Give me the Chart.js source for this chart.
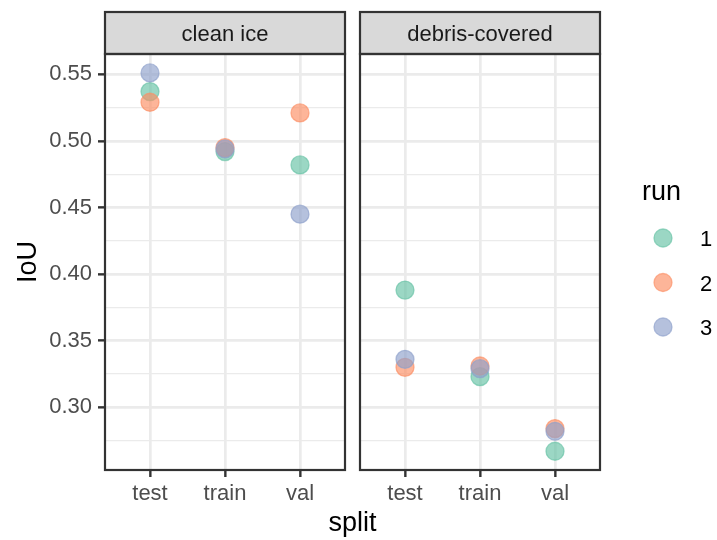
<!DOCTYPE html>
<html><head><meta charset="utf-8">
<script src="https://cdn.jsdelivr.net/npm/chart.js@4.4.0/dist/chart.umd.min.js"></script>
<style>html,body{margin:0;padding:0;background:#fff;}#wrap{width:717px;height:540px;position:relative;}</style>
</head><body><div id="wrap"><canvas id="c" width="717" height="540"></canvas></div>
<script>
// ---- data ----
const categories = ['test', 'train', 'val'];
const facets = ['clean ice', 'debris-covered'];
const runs = ['1', '2', '3'];
const run1Clean  = [0.537, 0.492, 0.482];
const run1Debris = [0.388, 0.323, 0.267];
const run2Clean  = [0.529, 0.495, 0.521];
const run2Debris = [0.330, 0.331, 0.284];
const run3Clean  = [0.551, 0.494, 0.445];
const run3Debris = [0.336, 0.329, 0.282];
const yMajorTicks = [0.30, 0.35, 0.40, 0.45, 0.50, 0.55];
const yMajorLabels = ['0.30', '0.35', '0.40', '0.45', '0.50', '0.55'];
const yMinorTicks = [0.275, 0.325, 0.375, 0.425, 0.475, 0.525];
const xTitle = 'split', yTitle = 'IoU', legendTitle = 'run';

// ---- layout / style ----
const FONT = "'Liberation Sans', Arial, Helvetica, sans-serif";
const colors = ['rgba(102,194,165,0.65)', 'rgba(252,141,98,0.65)', 'rgba(141,160,203,0.65)'];
const SPAN = 3.4, GAP = 0.2;
const xPos = (fi, ci) => fi * SPAN + ci + 1;
const series = [[run1Clean, run1Debris], [run2Clean, run2Debris], [run3Clean, run3Debris]];
const xTickVals = [], xTickText = {};
facets.forEach((f, fi) => categories.forEach((c, ci) => { const v = xPos(fi, ci); xTickVals.push(v); xTickText[v.toFixed(2)] = c; }));
const isMajor = v => yMajorTicks.some(t => Math.abs(t - v) < 1e-6);

const datasets = runs.map((r, i) => ({
  label: r,
  data: facets.flatMap((f, fi) => categories.map((c, ci) => ({ x: xPos(fi, ci), y: series[i][fi][ci] }))),
  backgroundColor: colors[i],
  borderColor: colors[i],
  borderWidth: 1.3,
  pointRadius: 9,
  pointHoverRadius: 9,
  order: 3 - i
}));

const facetPlugin = {
  id: 'facets',
  beforeDatasetsDraw(chart) {
    const { ctx, chartArea: a, scales: { x } } = chart;
    const g1 = x.getPixelForValue(0.4 + 3.2), g2 = x.getPixelForValue(0.4 + 3.2 + GAP);
    ctx.save();
    ctx.fillStyle = '#ffffff';
    ctx.fillRect(g1, a.top - 3, g2 - g1, a.bottom - a.top + 6);
    ctx.restore();
  },
  afterDraw(chart) {
    const { ctx, chartArea: a, scales: { x } } = chart;
    ctx.save();
    facets.forEach((f, fi) => {
      const l = x.getPixelForValue(fi * SPAN + 0.4), r = x.getPixelForValue(fi * SPAN + 3.6);
      ctx.fillStyle = '#D9D9D9';
      ctx.fillRect(l, 12, r - l, a.top - 12);
      ctx.strokeStyle = '#333333';
      ctx.lineWidth = 2.2;
      ctx.strokeRect(l, 12, r - l, a.top - 12);
      ctx.strokeRect(l, a.top, r - l, a.bottom - a.top);
      ctx.fillStyle = '#1A1A1A';
      ctx.font = '22px ' + FONT;
      ctx.textAlign = 'center';
      ctx.textBaseline = 'alphabetic';
      ctx.fillText(f, (l + r) / 2, 41);
    });
    ctx.fillStyle = '#000000';
    ctx.font = '27px ' + FONT;
    ctx.textAlign = 'center';
    ctx.textBaseline = 'alphabetic';
    ctx.fillText(xTitle, (a.left + a.right) / 2, 531);
    ctx.save();
    ctx.translate(36, (a.top + a.bottom) / 2);
    ctx.rotate(-Math.PI / 2);
    ctx.fillText(yTitle, 0, 0);
    ctx.restore();
    ctx.textAlign = 'left';
    ctx.fillText(legendTitle, 642, 200);
    ctx.font = '22px ' + FONT;
    chart.data.datasets.forEach((d, i) => {
      const cy = 238 + 44.5 * i;
      ctx.beginPath();
      ctx.arc(663, cy, 9, 0, Math.PI * 2);
      ctx.fillStyle = d.backgroundColor;
      ctx.fill();
      ctx.strokeStyle = d.borderColor;
      ctx.lineWidth = 1.3;
      ctx.stroke();
      ctx.fillStyle = '#000000';
      ctx.fillText(d.label, 700, cy + 8);
    });
    ctx.restore();
  }
};

Chart.defaults.font.family = FONT;
new Chart(document.getElementById('c'), {
  type: 'scatter',
  data: { datasets },
  options: {
    responsive: false,
    animation: false,
    devicePixelRatio: 1,
    layout: { padding: { left: 0, right: 117, top: 54, bottom: 0 } },
    plugins: { legend: { display: false }, tooltip: { enabled: false } },
    scales: {
      x: {
        type: 'linear',
        min: 0.4,
        max: 0.4 + 3.2 + GAP + 3.2,
        afterBuildTicks: s => { s.ticks = xTickVals.map(v => ({ value: v })); },
        afterFit: s => { s.height = 70; },
        border: { display: false },
        grid: { color: '#EBEBEB', lineWidth: 2.7, tickColor: '#333333', tickWidth: 2.4, tickLength: 7 },
        ticks: {
          autoSkip: false, maxRotation: 0, padding: 4, color: '#4D4D4D',
          font: { size: 22 },
          callback: v => xTickText[Number(v).toFixed(2)] || ''
        }
      },
      y: {
        type: 'linear',
        min: 0.25293,
        max: 0.56524,
        afterBuildTicks: s => { s.ticks = yMinorTicks.concat(yMajorTicks).sort((p, q) => p - q).map(v => ({ value: v })); },
        afterFit: s => { s.width = 105; },
        border: { display: false },
        grid: {
          color: '#EBEBEB',
          lineWidth: c => (c.tick && isMajor(c.tick.value)) ? 2.7 : 1.35,
          tickColor: c => (c.tick && isMajor(c.tick.value)) ? '#333333' : 'rgba(0,0,0,0)',
          tickWidth: 2.4,
          tickLength: 7
        },
        ticks: {
          padding: 6, color: '#4D4D4D', font: { size: 22 },
          callback: v => { const k = yMajorTicks.findIndex(t => Math.abs(t - v) < 1e-6); return k >= 0 ? yMajorLabels[k] : ''; }
        }
      }
    }
  },
  plugins: [facetPlugin]
});
</script></body></html>
